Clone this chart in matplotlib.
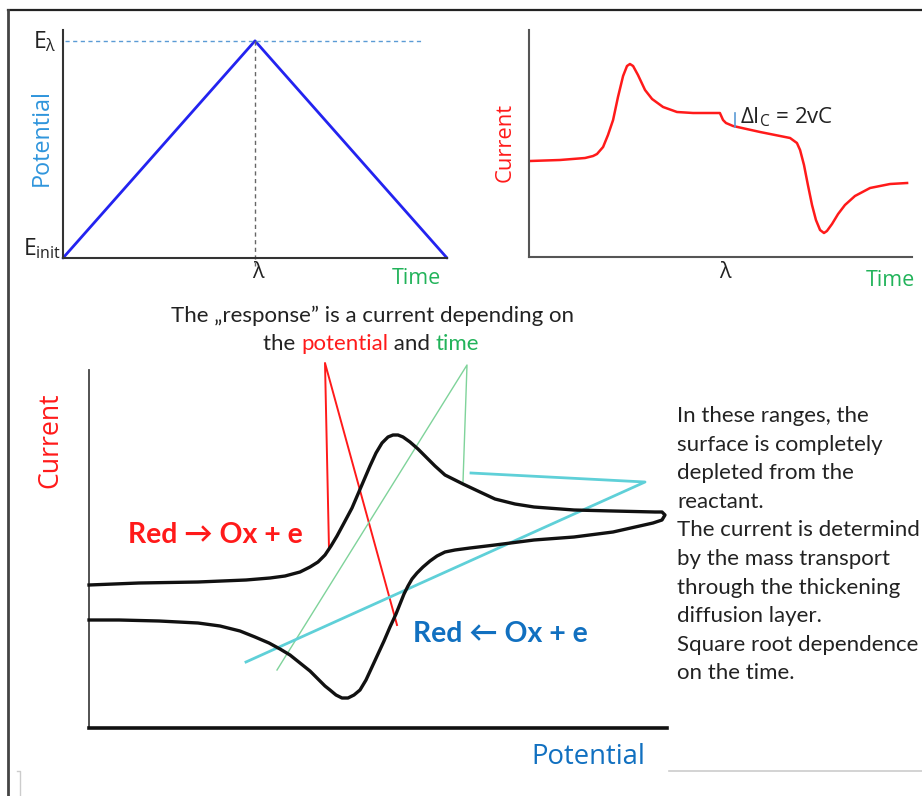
import matplotlib
matplotlib.use("Agg")
import matplotlib.pyplot as plt

plt.rcParams['font.family'] = ['Lato', 'DejaVu Sans']
plt.rcParams['mathtext.fontset'] = 'custom'
plt.rcParams['mathtext.rm'] = 'Open Sans'
plt.rcParams['mathtext.it'] = 'Open Sans:italic'

# ---------------- data ----------------
# top-left: triangular potential sweep
sweep_time = [0.0, 1.0, 2.0]
sweep_potential = [0.0, 1.0, 0.0]

# top-right: current vs time
ct_time = [0.005, 0.158, 0.286, 0.327, 0.347, 0.378, 0.403, 0.429, 0.454, 0.480, 0.500,
           0.515, 0.531, 0.556, 0.592, 0.628, 0.684, 0.755, 0.837, 0.974, 0.990, 1.005,
           1.041, 1.179, 1.332, 1.367, 1.383, 1.403, 1.423, 1.444, 1.464, 1.485, 1.505,
           1.520, 1.546, 1.577, 1.612, 1.663, 1.740, 1.842, 1.929]
ct_current = [9.6, 9.7, 9.9, 10.1, 10.3, 11.0, 12.2, 13.7, 16.0, 18.1, 19.1,
              19.3, 19.1, 18.2, 16.7, 15.8, 15.0, 14.5, 14.4, 14.4, 13.7, 13.4,
              13.1, 12.5, 11.9, 11.4, 10.7, 9.2, 7.2, 5.2, 3.7, 2.7, 2.4,
              2.6, 3.3, 4.3, 5.2, 6.1, 6.9, 7.3, 7.4]
dIc_time = [1.051, 1.051]
dIc_current = [13.0, 14.4]

# bottom: cyclic voltammogram
cv_potential = [0, 50, 109, 157, 181, 196, 211, 221, 229, 236, 242, 248, 255, 263, 269,
                275, 281, 287, 293, 299, 304, 309, 314, 321, 329, 337, 346, 356, 366,
                374, 391, 406, 426, 445, 485, 524, 566, 573, 576, 573, 564, 524, 485,
                445, 406, 381, 366, 356, 348, 341, 334, 328, 323, 319, 315, 311, 307,
                301, 295, 289, 283, 277, 271, 265, 259, 253, 247, 241, 236, 229, 221,
                211, 201, 191, 180, 166, 151, 131, 109, 70, 30, 0]
cv_current = [143, 145, 146, 148, 150, 152, 156, 161, 166, 173, 182, 192, 205, 220, 234,
              248, 262, 275, 285, 291, 293, 293, 291, 286, 279, 271, 262, 253, 248,
              244, 236, 229, 224, 221, 218, 217, 216, 216, 213, 208, 205, 196, 191,
              188, 183, 180, 178, 176, 172, 167, 161, 155, 149, 142, 134, 124, 114,
              101, 87, 74, 61, 48, 38, 33, 30, 30, 33, 38, 42, 49, 57,
              65, 73, 79, 85, 91, 97, 102, 105, 107, 108, 108]

# annotation pointer lines (bottom panel data units)
red_ptr_E = [240, 236, 308]
red_ptr_I = [179, 365, 103]
green_ptr_E = [374, 378, 188]
green_ptr_I = [246, 363, 58]
cyan_ptr_E = [382, 556, 157]
cyan_ptr_I = [255, 246, 66]

right_lines = ["In these ranges, the", "surface is completely", "depleted from the",
               "reactant.", "The current is determind", "by the mass transport",
               "through the thickening", "diffusion layer.",
               "Square root dependence", "on the time."]

# ---------------- figure ----------------
W, H = 922, 796
fig = plt.figure(figsize=(W / 100, H / 100), dpi=100)
bg = fig.add_axes([0, 0, 1, 1])
bg.set_xlim(0, W)
bg.set_ylim(H, 0)
bg.axis('off')


def px_axes(x0, yt, x1, yb):
    a = fig.add_axes([x0 / W, (H - yb) / H, (x1 - x0) / W, (yb - yt) / H])
    a.set_facecolor('none')
    a.set_xticks([])
    a.set_yticks([])
    for s in ('top', 'right'):
        a.spines[s].set_visible(False)
    return a


# frame
bg.plot([8, 922], [10, 10], color='#222222', lw=1.6)
bg.plot([8, 8], [10, 796], color='#444444', lw=2.0)
bg.plot([17, 20, 20], [771, 771, 796], color='#cccccc', lw=1.0)
bg.plot([669, 922], [771, 771], color='#cccccc', lw=1.2)

OS = ['Open Sans', 'DejaVu Sans']

# ---- top-left panel ----
a1 = px_axes(63, 30, 447, 258)
a1.set_xlim(0, 2)
a1.set_ylim(0, 1.05)
for s in ('left', 'bottom'):
    a1.spines[s].set_color('#333333')
    a1.spines[s].set_linewidth(1.5)
a1.plot(sweep_time, sweep_potential, color='#2323f0', lw=2.0, solid_capstyle='round', clip_on=False)
a1.plot([0.01, 1.875], [1.0, 1.0], color='#5b9bd5', lw=1.0, ls=(0, (3, 2.5)), clip_on=False)
a1.plot([1.0, 1.0], [1.0, -0.035], color='#666666', lw=1.0, ls=(0, (3, 2.5)), clip_on=False)

bg.text(33, 42, r'E$_\mathregular{\lambda}$', fontsize=16.5, family=OS, color='#222222', va='center', ha='left')
bg.text(23, 249, r'E$_\mathregular{init}$', fontsize=16.5, family=OS, color='#222222', va='center', ha='left')
bg.text(258, 272, 'λ', fontsize=15.5, family=OS, color='#222222', ha='center', va='center')
bg.text(416, 279, 'Time', fontsize=15.5, family=OS, color='#22b35a', ha='center', va='center')
bg.text(42, 138, 'Potential', fontsize=16.8, family=OS, color='#2f95dc', rotation=90, ha='center', va='center')

# ---- top-right panel ----
a2 = px_axes(529, 30, 912, 257)
a2.set_xlim(0, 383 / 196)
a2.set_ylim(0, 22.7)
for s in ('left', 'bottom'):
    a2.spines[s].set_color('#555555')
    a2.spines[s].set_linewidth(1.5)
a2.plot(ct_time, ct_current, color='#ff1a1a', lw=1.8, solid_joinstyle='round')
a2.plot(dIc_time, dIc_current, color='#5b9bd5', lw=1.2)
bg.text(740, 117, r'$\mathregular{\Delta I_C}$ = 2vC', fontsize=16, family=OS, color='#222222', ha='left', va='center')
bg.text(725, 273, 'λ', fontsize=15.5, family=OS, color='#222222', ha='center', va='center')
bg.text(890, 280, 'Time', fontsize=15.5, family=OS, color='#22b35a', ha='center', va='center')
bg.text(505, 142, 'Current', fontsize=15.8, family=OS, color='#ff1a1a', rotation=90, ha='center', va='center')

# ---- middle caption ----
CAP = 16
bg.text(372, 316, 'The \u201eresponse\u201d is a current depending on', fontsize=CAP,
        color='#222222', ha='center', va='center')
pieces = [('the ', '#222222'), ('potential', '#ff1a1a'), (' and ', '#222222'), ('time', '#22b35a')]
fig.canvas.draw()
r = fig.canvas.get_renderer()
objs = []
x = 0
for s, c in pieces:
    t = bg.text(x, 344, s, fontsize=CAP, color=c, ha='left', va='center')
    bb = t.get_window_extent(renderer=r)
    x = bg.transData.inverted().transform((bb.x1, bb.y0))[0]
    objs.append(t)
total = x
shift = 371 - total / 2
for t in objs:
    t.set_x(t.get_position()[0] + shift)

# ---- bottom CV panel ----
a3 = px_axes(89, 370, 667, 728)
a3.set_xlim(0, 578)
a3.set_ylim(0, 358)
a3.spines['left'].set_color('#444444')
a3.spines['left'].set_linewidth(1.3)
a3.spines['bottom'].set_color('#111111')
a3.spines['bottom'].set_linewidth(2.6)
a3.plot(red_ptr_E, red_ptr_I, color='#ff1a1a', lw=1.4, clip_on=False, zorder=2)
a3.plot(green_ptr_E, green_ptr_I, color='#7fd39a', lw=1.0, clip_on=False, zorder=2)
a3.plot(cyan_ptr_E, cyan_ptr_I, color='#5fd0d8', lw=2.0, clip_on=False, zorder=2)
a3.plot(cv_potential, cv_current, color='#111111', lw=2.4, solid_joinstyle='round',
        clip_on=False, zorder=3)

bg.text(215, 535, 'Red \u2192 Ox + e', fontsize=20.4, fontweight='bold', color='#ff1a1a',
        ha='center', va='center')
bg.text(500, 634, 'Red \u2190 Ox + e', fontsize=20.4, fontweight='bold', color='#1170c0',
        ha='center', va='center')
bg.text(50, 440, 'Current', fontsize=19.2, family=OS, color='#ff1a1a', rotation=90, ha='center', va='center')
bg.text(588, 757, 'Potential', fontsize=19.8, family=OS, color='#1170c0', ha='center', va='center')

for i, line in enumerate(right_lines):
    bg.text(677, 416 + i * 28.6, line, fontsize=16, color='#222222', ha='left', va='center')

fig.savefig('out.png', dpi=100)
